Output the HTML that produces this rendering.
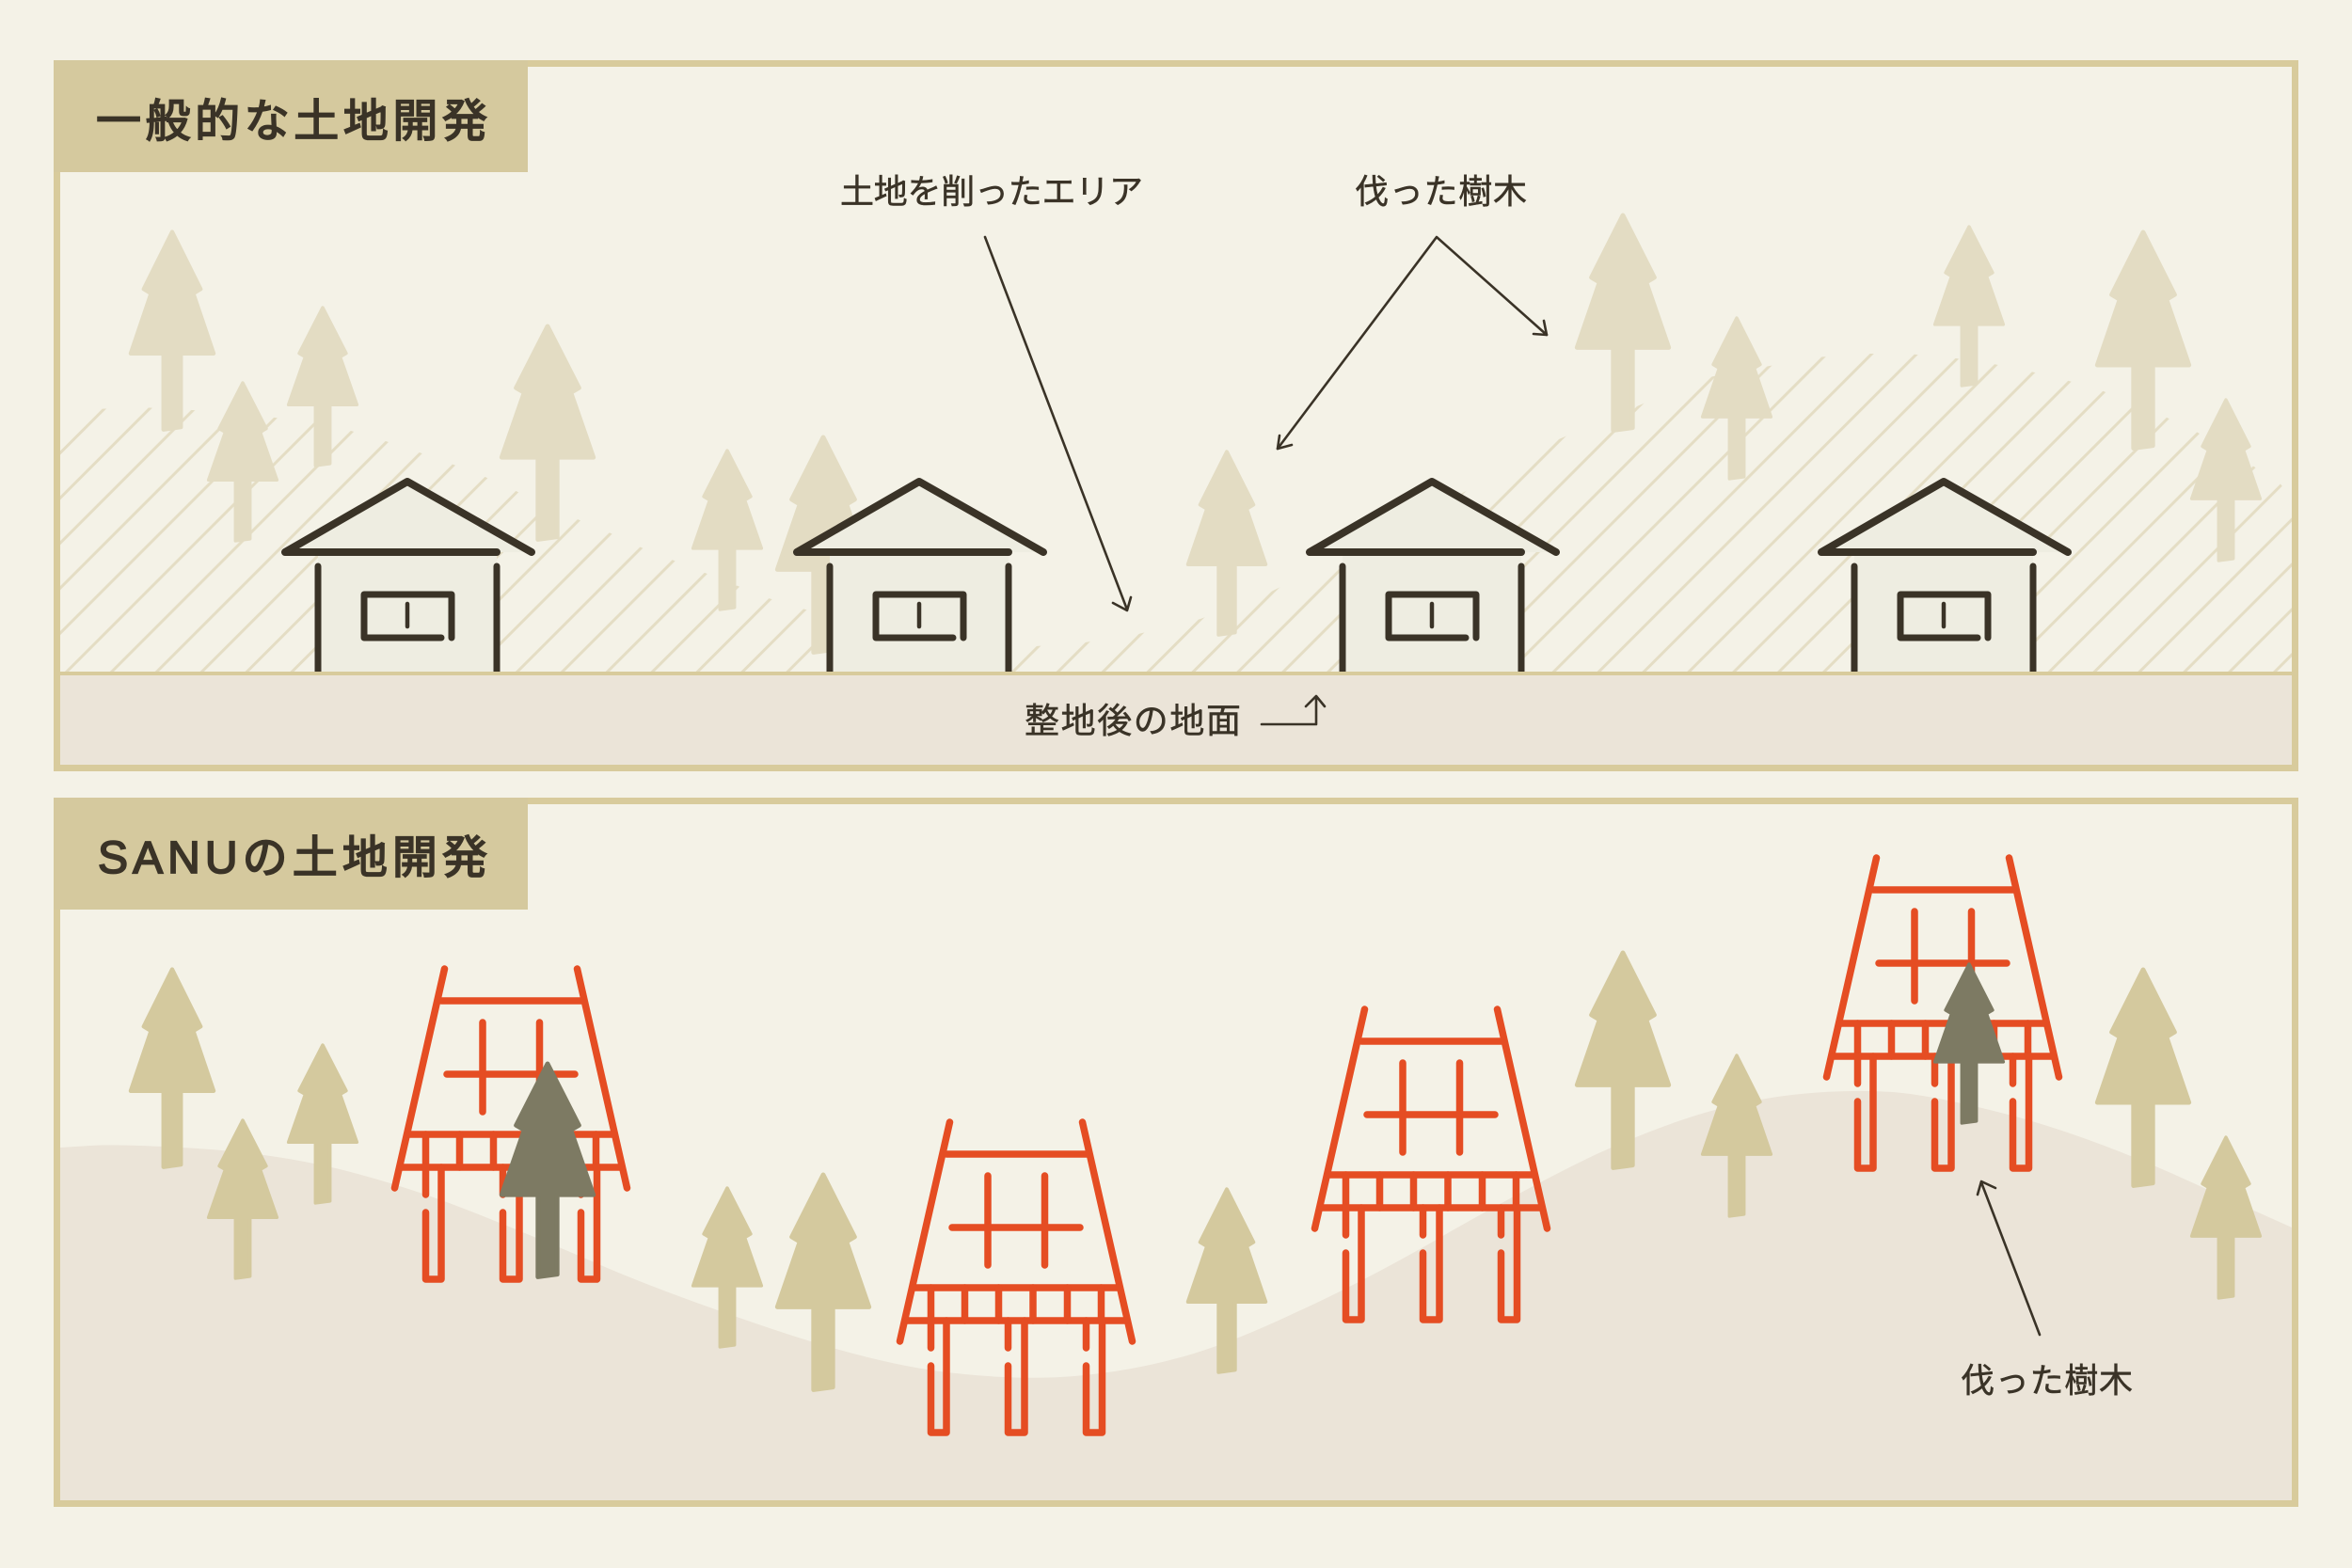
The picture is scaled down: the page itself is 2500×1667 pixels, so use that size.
<!DOCTYPE html>
<html lang="ja">
<head>
<meta charset="utf-8">
<title>土地開発</title>
<style>
html,body{margin:0;padding:0;background:#f4f2e7;}
svg{display:block;}
text{font-family:"Liberation Sans","Noto Sans CJK JP",sans-serif;fill:#3a3327;stroke:#3a3327;}
.t{font-size:48px;font-weight:400;stroke-width:1.8px;}
.l{font-size:36px;font-weight:400;stroke-width:0.5px;}
</style>
</head>
<body>
<svg xmlns="http://www.w3.org/2000/svg" width="2500" height="1667" viewBox="0 0 2500 1667">
<defs>
  <pattern id="hatch" patternUnits="userSpaceOnUse" width="47.9" height="47.9" patternTransform="translate(18.6,0)">
    <path d="M-10 10L10 -10M0 47.9L47.9 0M37.9 57.9L57.9 37.9" stroke="#e4ddc4" stroke-width="3" fill="none"/>
  </pattern>
  <clipPath id="cutArea">
    <polygon points="64,445 99,435 150,433 241,438 326,448 366,456 404,467 440,479 474,491 509,504 544,520 609,550 645,565 679,581 817,636 852,647 1000,680 1101,687 1153,683 1210,674 1276,658 1351,629 1500,555 1652,469 1811,402 1930,380 1980,376 2027,376 2072,380 2114,386 2154,394 2192,403 2231,414 2299,442 2333,458 2422,512 2436,530 2436,716 64,716"/>
  </clipPath>
  <path id="tree" d="M0 1.2 L14 29.6 L10.4 31.8 L20.4 61.6 L4.3 61.6 L4.3 98.2 L-4.3 99.4 L-4.3 61.6 L-20.4 61.6 L-10.4 31.8 L-14 29.6 Z" stroke-linejoin="round" stroke-width="2"/>
  <g id="house">
    <polygon points="-130,77 0,2 132,77 95,77 95,206 -95,206 -95,77" fill="#eeede1"/>
    <g fill="none" stroke="#3a3327" stroke-linecap="round" stroke-linejoin="round">
      <path d="M132 77 L0 2 L-130 77 L95 77" stroke-width="8"/>
      <path d="M-95 92 L-95 206 M95 92 L95 206" stroke-width="7"/>
      <path d="M36 168 L-46 168 L-46 122 L47 122 L47 168" stroke-width="7"/>
      <path d="M0 132 L0 156" stroke-width="4.5"/>
    </g>
    <rect x="-105" y="206" width="210" height="8" fill="#ebe4d8"/>
  </g>
  <g id="stilt" fill="none" stroke="#e54d23" stroke-width="7.5" stroke-linecap="round" stroke-linejoin="round">
    <path d="M-70.5 0 L-123.5 233 M70.5 0 L123.5 233"/>
    <path d="M-74 34 L75 34"/>
    <path d="M-30 57 L-30 152 M30.5 57 L30.5 152 M-68 112 L68 112"/>
    <path d="M-109 176 L109 176 M-116 211 L116 211"/>
    <path d="M-90.5 176V211 M-54.5 176V211 M-18.5 176V211 M18 176V211 M54.5 176V211 M90.5 176V211"/>
    <path d="M-90.5 211V240 M-90.5 259V330H-74V211"/>
    <path d="M-8.5 211V240 M-8.5 259V330H9V211"/>
    <path d="M74.5 211V240 M74.5 259V330H91.5V211"/>
  </g>
</defs>

<rect width="2500" height="1667" fill="#f4f2e7"/>

<!-- Panel 1 -->
<rect x="60.5" y="67.5" width="2379" height="749" fill="#f4f2e7"/>
<rect x="64" y="376" width="2372" height="340" fill="url(#hatch)" clip-path="url(#cutArea)"/>
<g fill="#e3dcc3" stroke="#e3dcc3">
  <use href="#tree" transform="translate(183,244) scale(2.16,2.14)"/>
  <use href="#tree" transform="translate(258,405) scale(1.78,1.71)"/>
  <use href="#tree" transform="translate(343,325) scale(1.78,1.71)"/>
  <use href="#tree" transform="translate(582,344) scale(2.39,2.31)"/>
  <use href="#tree" transform="translate(773,477) scale(1.78,1.72)"/>
  <use href="#tree" transform="translate(875,462) scale(2.39,2.33)"/>
  <use href="#tree" transform="translate(1304,478) scale(2.02,1.98)"/>
  <use href="#tree" transform="translate(1725,226) scale(2.39,2.33)"/>
  <use href="#tree" transform="translate(1846,336) scale(1.78,1.74)"/>
  <use href="#tree" transform="translate(2093,239) scale(1.78,1.72)"/>
  <use href="#tree" transform="translate(2278,244) scale(2.39,2.34)"/>
  <use href="#tree" transform="translate(2366,423) scale(1.78,1.74)"/>
</g>
<use href="#house" transform="translate(433,510)"/>
<use href="#house" transform="translate(977,510)"/>
<use href="#house" transform="translate(1522,510)"/>
<use href="#house" transform="translate(2066,510)"/>
<rect x="64" y="716" width="2372" height="101" fill="#ebe4d8"/>
<path d="M64 716H2436" stroke="#d8cb9c" stroke-width="4"/>
<rect x="60.5" y="67.5" width="2379" height="749" fill="none" stroke="#d8cb9c" stroke-width="7"/>
<rect x="57" y="64" width="504" height="119" fill="#d5c99e"/>
<text class="t" x="102" y="145" textLength="416" lengthAdjust="spacing">一般的な土地開発</text>

<text class="l" x="893" y="216" textLength="322" lengthAdjust="spacing">土地を削ったエリア</text>
<text class="l" x="1440" y="216" textLength="183" lengthAdjust="spacing">伐った樹木</text>
<text class="l" x="1089" y="779" style="font-size:37px" textLength="230" lengthAdjust="spacing">整地後の地面</text>

<g fill="none" stroke="#3a3327" stroke-width="2.6" stroke-linecap="round" stroke-linejoin="round">
  <path d="M1047 252 L1198 648 M1183 641 L1198 649 L1202 635"/>
  <path d="M1358 477 L1527 252 L1644 356"/>
  <path d="M1373 473 L1358 477 L1360 463"/>
  <path d="M1630 355 L1644 356 L1641 341"/>
  <path d="M1341 770 L1399 770 L1399 741 M1388 751 L1399 740 L1408 751"/>
</g>

<!-- Panel 2 -->
<rect x="60.5" y="851.5" width="2379" height="747" fill="#f4f2e7"/>
<path d="M64 1220 L96 1218 Q129 1216 210 1221 Q290 1226 361 1243 Q433 1261 501 1288 Q569 1315 634 1343 Q700 1372 815 1411 Q930 1450 1007 1459 Q1084 1468 1142 1463 Q1200 1458 1251 1444 Q1302 1431 1378 1395 Q1455 1360 1544 1308 Q1634 1257 1697 1227 Q1761 1198 1812 1183 Q1863 1168 1914 1163 Q1965 1158 2012 1161 Q2060 1165 2146 1188 Q2232 1212 2334 1259 L2436 1305 L2436 1598 L64 1598 Z" fill="#ebe4d8"/>
<g fill="#d4c99e" stroke="#d4c99e">
  <use href="#tree" transform="translate(183,1028) scale(2.16,2.14)"/>
  <use href="#tree" transform="translate(258,1189) scale(1.78,1.71)"/>
  <use href="#tree" transform="translate(343,1109) scale(1.78,1.71)"/>
  <use href="#tree" transform="translate(773,1261) scale(1.78,1.72)"/>
  <use href="#tree" transform="translate(875,1246) scale(2.39,2.33)"/>
  <use href="#tree" transform="translate(1304,1262) scale(2.02,1.98)"/>
  <use href="#tree" transform="translate(1725,1010) scale(2.39,2.33)"/>
  <use href="#tree" transform="translate(1846,1120) scale(1.78,1.74)"/>
  <use href="#tree" transform="translate(2278,1028) scale(2.39,2.34)"/>
  <use href="#tree" transform="translate(2366,1207) scale(1.78,1.74)"/>
</g>
<use href="#stilt" transform="translate(543,1030)"/>
<use href="#stilt" transform="translate(1080,1193)"/>
<use href="#stilt" transform="translate(1521,1073)"/>
<use href="#stilt" transform="translate(2065,912)"/>
<g fill="#7d7a63" stroke="#7d7a63">
  <use href="#tree" transform="translate(582,1128) scale(2.39,2.31)"/>
  <use href="#tree" transform="translate(2093,1023) scale(1.78,1.72)"/>
</g>
<rect x="60.5" y="851.5" width="2379" height="747" fill="none" stroke="#d8cb9c" stroke-width="7"/>
<rect x="57" y="848" width="504" height="119" fill="#d5c99e"/>
<text class="t" x="104" y="928" textLength="414" lengthAdjust="spacing">SANUの土地開発</text>

<g fill="none" stroke="#3a3327" stroke-width="2.6" stroke-linecap="round" stroke-linejoin="round">
  <path d="M2168 1419 L2106 1257 M2121 1263 L2106 1256 L2102 1270"/>
</g>
<text class="l" x="2084" y="1480" textLength="183" lengthAdjust="spacing">伐った樹木</text>
</svg>
</body>
</html>
